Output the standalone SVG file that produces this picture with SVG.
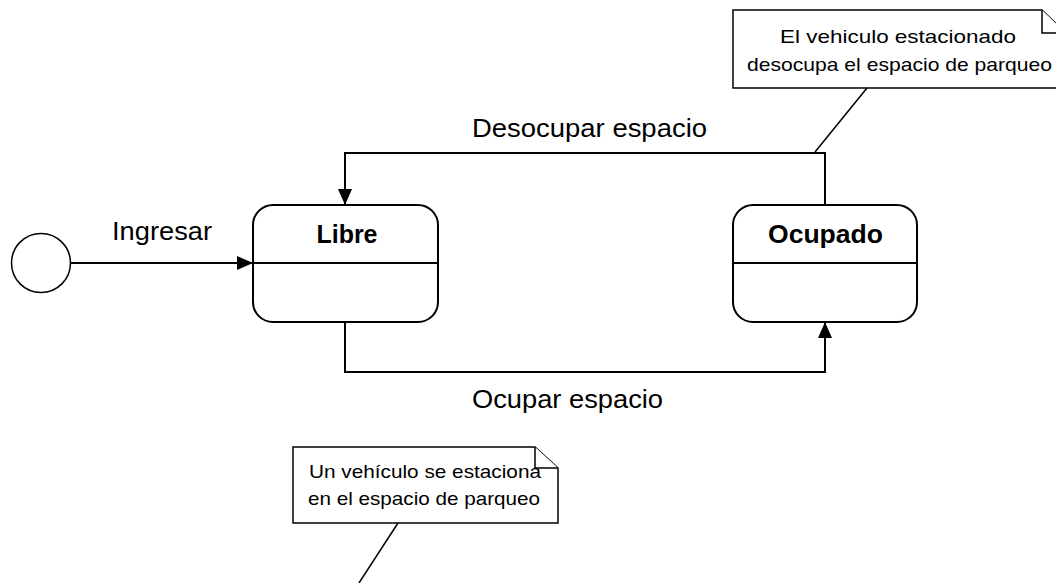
<svg xmlns="http://www.w3.org/2000/svg" width="1056" height="583" viewBox="0 0 1056 583">
<style>
text{font-family:"Liberation Sans",Arial,sans-serif;fill:#000}
.state{fill:#fff;stroke:#000;stroke-width:2}
.div{stroke:#000;stroke-width:2}
.title{font-size:25px;font-weight:bold;text-anchor:middle}
.lbl{font-size:26px}
.note{fill:#fff;stroke:#000;stroke-width:1.5}
.ntext{font-size:19px;text-anchor:middle}
.conn{fill:none;stroke:#000;stroke-width:2}
.anchor{fill:none;stroke:#000;stroke-width:1.5}
</style>
<defs>
<marker id="arr" markerWidth="16" markerHeight="14" refX="16" refY="7" orient="auto" markerUnits="userSpaceOnUse">
<path d="M0,0 L16,7 L0,14 Z" fill="#000"/>
</marker>
</defs>
<rect width="1056" height="583" fill="#fff"/>

<g id="initial">
<circle cx="41" cy="263" r="29.5" fill="#fff" stroke="#000" stroke-width="1.5"/>
</g>

<g id="libre">
<rect class="state" x="253" y="205" width="185" height="117" rx="20" ry="20"/>
<line class="div" x1="253" y1="263" x2="438" y2="263"/>
<text class="title" x="347" y="243" textLength="61" lengthAdjust="spacingAndGlyphs">Libre</text>
</g>

<g id="ocupado">
<rect class="state" x="733" y="205" width="184" height="117" rx="20" ry="20"/>
<line class="div" x1="733" y1="263" x2="917" y2="263"/>
<text class="title" x="825.5" y="243" textLength="115" lengthAdjust="spacingAndGlyphs">Ocupado</text>
</g>

<g id="note-desocupar">
<path class="note" d="M733,10 L1042,10 L1066,33 L1066,88 L733,88 Z"/>
<path class="note" d="M1042,10 L1042,33 L1066,33"/>
<text class="ntext" x="898" y="43" textLength="236" lengthAdjust="spacingAndGlyphs">El vehiculo estacionado</text>
<text class="ntext" x="899.5" y="71" textLength="305" lengthAdjust="spacingAndGlyphs">desocupa el espacio de parqueo</text>
</g>

<g id="note-ocupar">
<path class="note" d="M293,447 L535,447 L558,468 L558,523 L293,523 Z"/>
<path class="note" d="M535,447 L535,468 L558,468"/>
<text class="ntext" x="425" y="478" textLength="232" lengthAdjust="spacingAndGlyphs">Un vehículo se estaciona</text>
<text class="ntext" x="424" y="505" textLength="232" lengthAdjust="spacingAndGlyphs">en el espacio de parqueo</text>
</g>

<g id="connectors">
<line class="conn" x1="70.5" y1="263" x2="253" y2="263" marker-end="url(#arr)"/>
<text class="lbl" x="112" y="240" textLength="100" lengthAdjust="spacingAndGlyphs">Ingresar</text>
<polyline class="conn" points="825,205 825,153 345,153 345,205" marker-end="url(#arr)"/>
<text class="lbl" x="472" y="137" textLength="235" lengthAdjust="spacingAndGlyphs">Desocupar espacio</text>
<polyline class="conn" points="345,322 345,372 825,372 825,322" marker-end="url(#arr)"/>
<text class="lbl" x="472" y="408" textLength="191" lengthAdjust="spacingAndGlyphs">Ocupar espacio</text>
<line class="anchor" x1="867" y1="88" x2="815" y2="152"/>
<line class="anchor" x1="398" y1="523" x2="359" y2="583"/>
</g>
</svg>
